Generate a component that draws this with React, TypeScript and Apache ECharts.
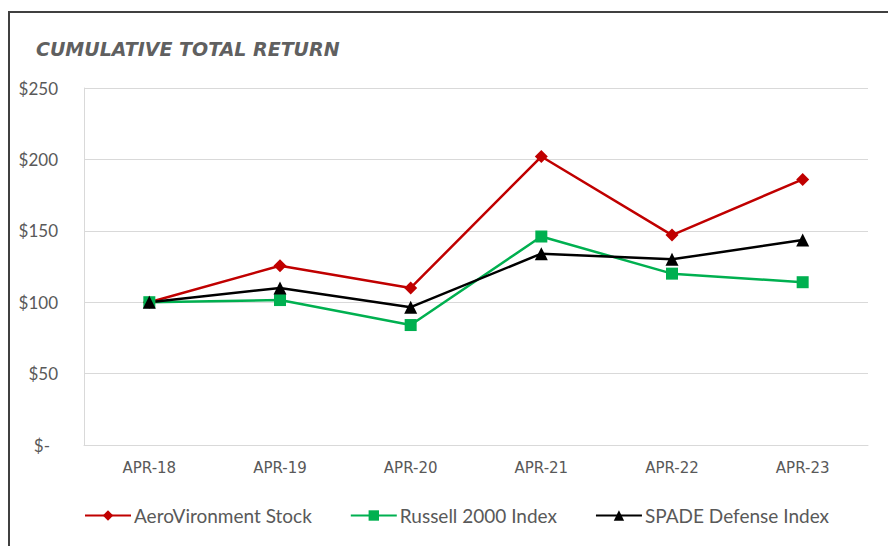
import React, { useEffect, useRef } from "react";
import * as echarts from "echarts";

const categories = ["APR-18", "APR-19", "APR-20", "APR-21", "APR-22", "APR-23"];
const aeroValues = [100, 125.5, 110, 202, 147, 186];
const russellValues = [100, 101.5, 84, 146, 120, 114];
const spadeValues = [100, 110, 96.5, 134, 130, 143.5];
const yTicks = [0, 50, 100, 150, 200, 250];

const FONT = "Lato, 'Open Sans', sans-serif";
const GRAY = "#595959";

export default function App() {
  const ref = useRef<HTMLDivElement>(null);
  useEffect(() => {
    document.body.style.margin = "0";
    const chart = echarts.init(ref.current!, undefined, { renderer: "svg" });
    const mk = (name: string, data: number[], color: string, symbol: string, size: number) => ({
      name,
      type: "line",
      data,
      symbol,
      symbolSize: size,
      showAllSymbol: true,
      lineStyle: { color, width: 2.5 },
      itemStyle: { color },
      z: 3,
    });
    chart.setOption({
      animation: false,
      backgroundColor: "#ffffff",
      title: {
        text: "CUMULATIVE TOTAL RETURN",
        left: 31,
        top: 34,
        textStyle: {
          fontFamily: "'DejaVu Sans', sans-serif",
          fontStyle: "italic",
          fontWeight: "bold",
          fontSize: 19,
          color: "#606060",
        },
      },
      legend: {
        bottom: 16,
        left: 79,
        itemGap: 38,
        itemWidth: 46,
        itemHeight: 13,
        textStyle: { fontFamily: FONT, fontSize: 19, color: GRAY, padding: [0, 0, 0, -2] },
        data: ["AeroVironment Stock", "Russell 2000 Index", "SPADE Defense Index"],
      },
      grid: { left: 84, right: 20, top: 88, bottom: 101 },
      xAxis: {
        type: "category",
        data: categories,
        boundaryGap: true,
        axisLine: { lineStyle: { color: "#d9d9d9", width: 1 } },
        axisTick: { show: false },
        axisLabel: {
          fontFamily: "'DejaVu Sans', sans-serif",
          fontSize: 15,
          color: GRAY,
          margin: 15,
        },
      },
      yAxis: {
        type: "value",
        min: yTicks[0],
        max: yTicks[yTicks.length - 1],
        interval: 50,
        axisLine: { show: true, lineStyle: { color: "#d9d9d9", width: 1 } },
        axisTick: { show: false },
        splitLine: { lineStyle: { color: "#d9d9d9", width: 1 } },
        axisLabel: {
          fontFamily: FONT,
          fontSize: 17,
          color: GRAY,
          margin: 26,
          formatter: (v: number) => (v === 0 ? "{z|$-}" : "$" + v),
          rich: { z: { fontFamily: FONT, fontSize: 17, color: GRAY, padding: [0, 8, 0, 0] } },
        },
      },
      graphic: [
        { type: "line", shape: { x1: 9, y1: 11, x2: 9, y2: 546 }, style: { stroke: "#404040", lineWidth: 2 } },
        { type: "line", shape: { x1: 8, y1: 12, x2: 888, y2: 12 }, style: { stroke: "#404040", lineWidth: 2 } },
      ],
      series: [
        mk("AeroVironment Stock", aeroValues, "#C00000", "diamond", 13),
        mk("Russell 2000 Index", russellValues, "#00B050", "rect", 12),
        mk("SPADE Defense Index", spadeValues, "#000000", "triangle", 13),
      ],
    });
    return () => chart.dispose();
  }, []);
  return <div ref={ref} style={{ width: 888, height: 546 }} />;
}
